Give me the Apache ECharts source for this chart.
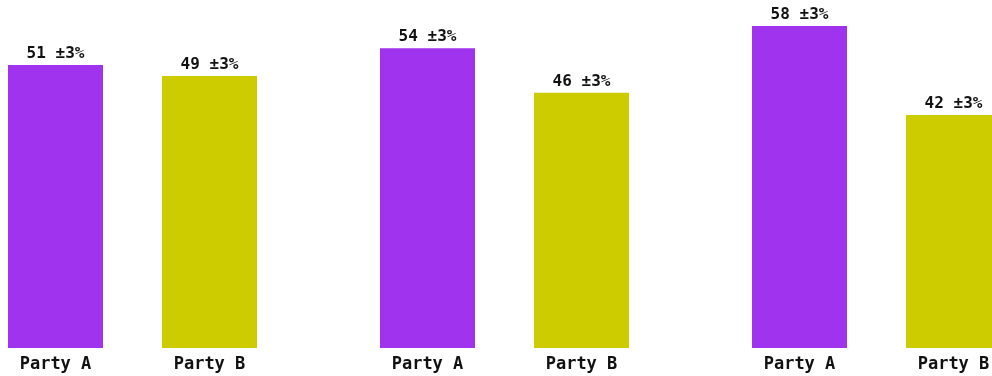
<!DOCTYPE html>
<html>
<head>
<meta charset="utf-8">
<script src="https://cdn.jsdelivr.net/npm/echarts@6/dist/echarts.min.js"></script>
<style>
  html, body { margin: 0; padding: 0; background: #ffffff; }
  #chart { width: 992px; height: 376px; }
</style>
</head>
<body>
<div id="chart"></div>
<script>
// Two-party vote share across three scenarios
const parties = ['Party A', 'Party B'];
const scenarioA = [51, 49];
const scenarioB = [54, 46];
const scenarioC = [58, 42];
const margin = 3; // ± margin of error, percent
const partyColors = ['#9f33ee', '#cccc00'];

const groups = [scenarioA, scenarioB, scenarioC];
const gridLefts = [-21.5, 350.5, 722.5];
const fontFamily = '"DejaVu Sans Mono", "Liberation Mono", monospace';

const chart = echarts.init(document.getElementById('chart'));

chart.setOption({
  animation: false,
  grid: groups.map((_, i) => ({
    left: gridLefts[i], width: 308, top: 15, height: 333,
    outerBoundsMode: 'none', containLabel: false
  })),
  xAxis: groups.map((_, i) => ({
    type: 'category', gridIndex: i, data: parties,
    axisLine: { show: false }, axisTick: { show: false },
    axisLabel: {
      color: '#111', fontFamily, fontWeight: 'bold', fontSize: 17, margin: 8
    }
  })),
  yAxis: groups.map((_, i) => ({
    type: 'value', gridIndex: i, min: 0, max: 60, show: false,
    splitLine: { show: false }
  })),
  series: groups.map((vals, i) => ({
    type: 'bar', xAxisIndex: i, yAxisIndex: i, barWidth: 95,
    data: vals.map((v, j) => ({ value: v, itemStyle: { color: partyColors[j] } })),
    label: {
      show: true, position: 'top', distance: 3,
      color: '#111', fontFamily, fontWeight: 'bold', fontSize: 16,
      formatter: p => p.value + ' \u00b1' + margin + '%'
    }
  }))
});
</script>
</body>
</html>
